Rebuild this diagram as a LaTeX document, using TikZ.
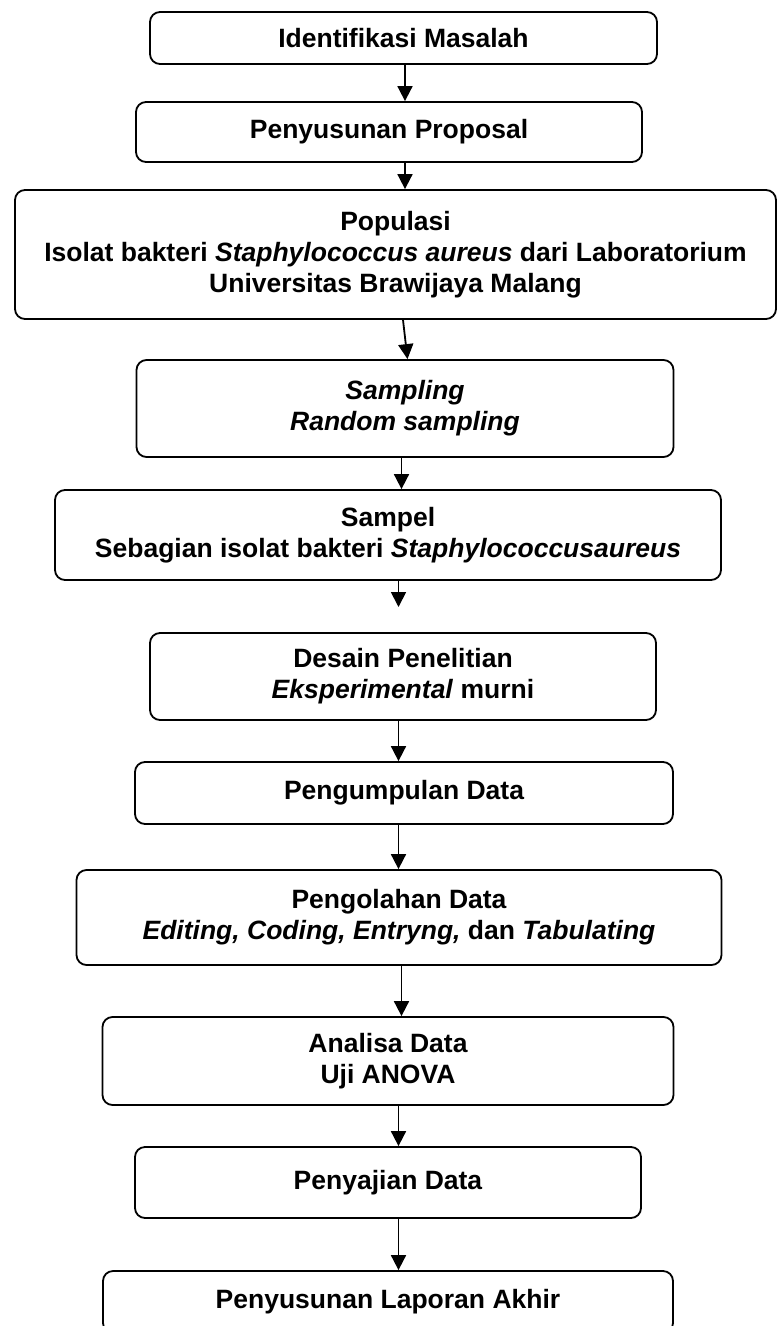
\documentclass[tikz,border=0pt]{standalone}
\usepackage{fontspec}
\setmainfont{Liberation Sans}
\usetikzlibrary{arrows.meta}
\begin{document}
\begin{tikzpicture}[x=1pt,y=1pt,
  box/.style={draw, line width=1.8pt, rounded corners=10pt, inner sep=0pt, align=center,
    font=\fontsize{26.5}{31}\selectfont\bfseries},
  arr/.style={line width=1.8pt, -{Triangle[width=15pt,length=15pt]}}]
\useasboundingbox (0,0) rectangle (777,-1326);
\clip (0,0) rectangle (777,-1326);
\node[box, minimum width=507pt, minimum height=52pt] (id) at (403.5,-38) {Identifikasi Masalah};
\node[box, minimum width=506pt, minimum height=60pt] (prop) at (389,-132) {Penyusunan Proposal};
\node[box, minimum width=761pt, minimum height=129pt] (pop) at (395.5,-254.5) {Populasi\\Isolat bakteri \textit{Staphylococcus aureus} dari Laboratorium\\Universitas Brawijaya Malang};
\node[box, minimum width=537pt, minimum height=97pt] (samp) at (405,-408.5) {\textit{Sampling}\\\textit{Random sampling}};
\node[box, minimum width=666pt, minimum height=90pt] (sampel) at (388,-535) {Sampel\\Sebagian isolat bakteri \textit{Staphylococcusaureus}};
\node[box, minimum width=506pt, minimum height=87pt] (desain) at (403,-676.5) {Desain Penelitian\\\textit{Eksperimental} murni};
\node[box, minimum width=538pt, minimum height=62pt] (kumpul) at (404,-793) {Pengumpulan Data};
\node[box, minimum width=645pt, minimum height=95pt] (olah) at (399,-917.5) {Pengolahan Data\\\textit{Editing, Coding, Entryng,} dan \textit{Tabulating}};
\node[box, minimum width=571pt, minimum height=88pt] (analisa) at (388,-1061) {Analisa Data\\Uji ANOVA};
\node[box, minimum width=506pt, minimum height=71pt] (saji) at (388,-1182.5) {Penyajian Data};
\node[box, minimum width=570pt, minimum height=62pt] (lapor) at (388,-1302) {Penyusunan Laporan Akhir};
\coordinate (x1) at (405,0);
\coordinate (x2) at (405,0);
\coordinate (x3a) at (403,0);
\coordinate (x3b) at (407.5,0);
\coordinate (x4) at (401.5,0);
\coordinate (e5) at (398.5,-607);
\coordinate (x6) at (398.5,0);
\coordinate (x7) at (398.5,0);
\coordinate (x8) at (401.5,0);
\coordinate (x9) at (398.5,0);
\coordinate (x10) at (398.5,0);
\draw[arr] (id.south -| x1) -- (prop.north -| x1);
\draw[arr] (prop.south -| x2) -- (pop.north -| x2);
\draw[arr] (pop.south -| x3a) -- (samp.north -| x3b);
\draw[arr] (samp.south -| x4) -- (sampel.north -| x4);
\draw[arr] (sampel.south -| e5) -- (e5);
\draw[arr] (desain.south -| x6) -- (kumpul.north -| x6);
\draw[arr] (kumpul.south -| x7) -- (olah.north -| x7);
\draw[arr] (olah.south -| x8) -- (analisa.north -| x8);
\draw[arr] (analisa.south -| x9) -- (saji.north -| x9);
\draw[arr] (saji.south -| x10) -- (lapor.north -| x10);
\end{tikzpicture}
\end{document}
